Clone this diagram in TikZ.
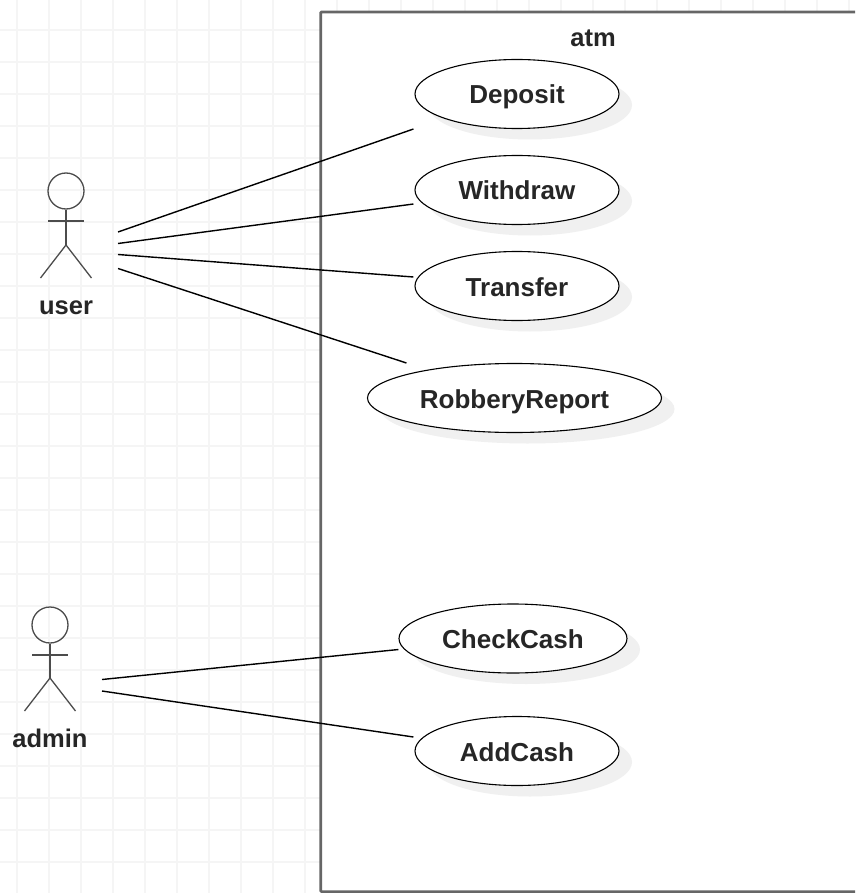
\documentclass[tikz,border=0pt]{standalone}
\usepackage{fontspec}
\setmainfont{Liberation Sans}
\usetikzlibrary{shapes.geometric,shadows}

\tikzset{
    usecase/.style={ellipse,draw=black,line width=1.1pt,fill=white,minimum height=69pt,inner sep=0pt,
        text height=20pt,text depth=0pt,
        font=\fontsize{26}{26}\selectfont\bfseries,text=black!85,
        drop shadow={shadow xshift=13pt,shadow yshift=-11pt,fill=black!6,opacity=1}},
    actorline/.style={draw=black!70,line width=1.3pt},
    actorname/.style={inner sep=0pt,text height=16pt,text depth=0pt,
        font=\fontsize{25.5}{26}\selectfont\bfseries,text=black!85},
    assoc/.style={draw=black,line width=1.4pt}
}

\begin{document}
\begin{tikzpicture}[x=1pt,y=-1pt]
            \useasboundingbox (0,0) rectangle (855,893);
            \clip (0,0) rectangle (855,893);
            % grid
            \foreach \i in {0,...,26} {
                \draw [black!4,line width=1.2pt] ({17+32*\i},0) -- ({17+32*\i},893);
            }
            \foreach \i in {0,...,26} {
                \draw [black!4,line width=1.2pt] (0,{30+32*\i}) -- (855,{30+32*\i});
            }
            % system box
            \draw [black!60,line width=2.8pt,fill=white,rounded corners=1pt] (320.7,891.7) -- (320.7,12) -- (870,12) -- (870,891.7) -- cycle;
            \node [actorname] (atm) at (593,39) {atm};
            % use cases
            \node [usecase,minimum width=204pt] (deposit) at (517,94) {Deposit};
            \node [usecase,minimum width=204pt] (withdraw) at (517,190) {Withdraw};
            \node [usecase,minimum width=204pt] (transfer) at (517,286) {Transfer};
            \node [usecase,minimum width=294pt] (robbery) at (514.5,398) {RobberyReport};
            \node [usecase,minimum width=228pt] (checkcash) at (513,638.5) {CheckCash};
            \node [usecase,minimum width=204pt] (addcash) at (517,751) {AddCash};
            % user
            \node [circle,actorline,minimum size=36pt,inner sep=0pt] (userhead) at (66,191) {};
            \coordinate (userhip) at (66,245);
            \coordinate (userneck) at (66,221);
            \draw [actorline] (userhead) -- (userhip);
            \draw [actorline] ([xshift=-18pt]userneck) -- ([xshift=18pt]userneck);
            \draw [actorline] ([xshift=-25.5pt,yshift=-33pt]userhip) -- (userhip) -- ([xshift=25.5pt,yshift=-33pt]userhip);
            \node [actorname] (user) at (66,306) {user};
            % admin
            \node [circle,actorline,minimum size=36pt,inner sep=0pt] (adminhead) at (50,625) {};
            \coordinate (adminhip) at (50,678);
            \coordinate (adminneck) at (50,655);
            \draw [actorline] (adminhead) -- (adminhip);
            \draw [actorline] ([xshift=-18pt]adminneck) -- ([xshift=18pt]adminneck);
            \draw [actorline] ([xshift=-25.5pt,yshift=-33pt]adminhip) -- (adminhip) -- ([xshift=25.5pt,yshift=-33pt]adminhip);
            \node [actorname] (admin) at (50,739) {admin};
            % free ends beside the actors
            \coordinate (userA) at (118,232);
            \coordinate (userB) at (118,243.5);
            \coordinate (userC) at (118,254.5);
            \coordinate (userD) at (118,268.5);
            \coordinate (adminA) at (102,679.5);
            \coordinate (adminB) at (102,691);
            % associations
            \draw [assoc] (userA) -- ([yshift=-35pt,xshift=-1pt]deposit.west);
            \draw [assoc] (userB) -- ([yshift=-14pt,xshift=-1pt]withdraw.west);
            \draw [assoc] (userC) -- ([yshift=9pt,xshift=-1pt]transfer.west);
            \draw [assoc] (userD) -- ([yshift=35pt,xshift=39.5pt]robbery.west);
            \draw [assoc] (adminA) -- ([yshift=-11pt]checkcash.west);
            \draw [assoc] (adminB) -- ([yshift=14pt,xshift=-1pt]addcash.west);
        \end{tikzpicture}
\end{document}
